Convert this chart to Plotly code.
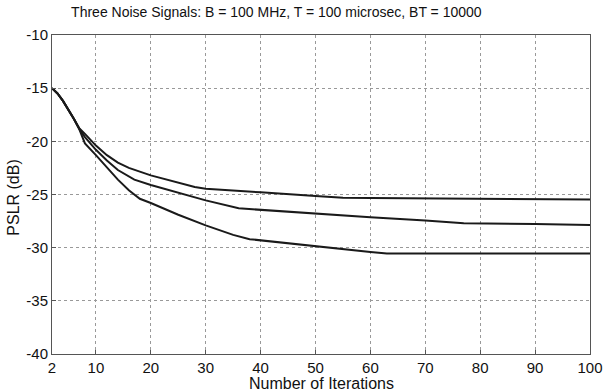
import plotly.graph_objects as go

iters_top = [2, 3, 4, 5, 6, 7, 8, 10, 12, 14, 16, 20, 25, 28, 30, 36, 40, 50, 55, 60, 80, 85, 90, 100]
pslr_top = [-15, -15.5, -16.2, -17.0, -17.9, -18.8, -19.3, -20.4, -21.3, -22.0, -22.5, -23.2, -23.9, -24.3, -24.45, -24.7, -24.8, -25.15, -25.3, -25.33, -25.37, -25.4, -25.43, -25.47]

iters_mid = [2, 3, 4, 5, 6, 7, 8, 10, 12, 14, 17, 20, 25, 30, 36, 40, 50, 60, 70, 77, 90, 100]
pslr_mid = [-15, -15.5, -16.2, -17.0, -17.9, -18.85, -19.6, -20.8, -21.8, -22.7, -23.6, -24.1, -24.8, -25.55, -26.3, -26.45, -26.8, -27.15, -27.45, -27.7, -27.78, -27.87]

iters_bot = [2, 3, 4, 5, 6, 7, 8, 10, 12, 14, 16, 18, 20, 25, 30, 35, 38, 45, 50, 55, 60, 63, 70, 100]
pslr_bot = [-15, -15.5, -16.2, -17.0, -17.9, -18.9, -20.2, -21.3, -22.5, -23.6, -24.6, -25.4, -25.8, -26.9, -27.9, -28.8, -29.2, -29.6, -29.85, -30.1, -30.4, -30.55, -30.55, -30.55]

x_ticks = [2, 10, 20, 30, 40, 50, 60, 70, 80, 90, 100]
y_ticks = [-40, -35, -30, -25, -20, -15, -10]

fig = go.Figure()
for xs, ys in [(iters_top, pslr_top), (iters_mid, pslr_mid), (iters_bot, pslr_bot)]:
    fig.add_trace(go.Scatter(x=xs, y=ys, mode="lines",
                             line=dict(color="#1a1a1a", width=2), showlegend=False))

font = "Liberation Sans, Arial, sans-serif"
axis_common = dict(showline=True, linecolor="#555", linewidth=1, mirror=True,
                   showgrid=True, gridcolor="#999", griddash="dot", gridwidth=1,
                   zeroline=False, ticks="inside", ticklen=4, tickcolor="#555",
                   automargin=False,
                   tickfont=dict(size=15, color="#111", family=font))

fig.update_layout(
    width=604, height=392,
    margin=dict(l=52, r=14, t=35, b=38),
    paper_bgcolor="white", plot_bgcolor="white",
    title=dict(text="Three Noise Signals: B = 100 MHz, T = 100 microsec, BT = 10000",
               xref="paper", x=0.417, xanchor="center", y=0.982, yanchor="top",
               font=dict(size=14, color="#111", family=font)),
    xaxis=dict(range=[2, 100], tickvals=x_ticks, ticktext=[str(v) for v in x_ticks],
               **axis_common),
    yaxis=dict(range=[-40, -10], tickvals=y_ticks, ticktext=[str(v) for v in y_ticks],
               **axis_common),
    annotations=[
        dict(text="Number of Iterations", xref="paper", yref="paper", x=0.5, y=-0.06,
             xanchor="center", yanchor="top", showarrow=False,
             font=dict(size=16, color="#111", family=font)),
        dict(text="PSLR (dB)", xref="paper", yref="paper", x=-0.0706, y=0.49,
             xanchor="center", yanchor="middle", textangle=-90, showarrow=False,
             font=dict(size=16, color="#111", family=font)),
    ],
)

fig.write_html("out.html", config={"displayModeBar": False},
               post_script="document.body.style.margin='0';document.body.style.padding='0';")
